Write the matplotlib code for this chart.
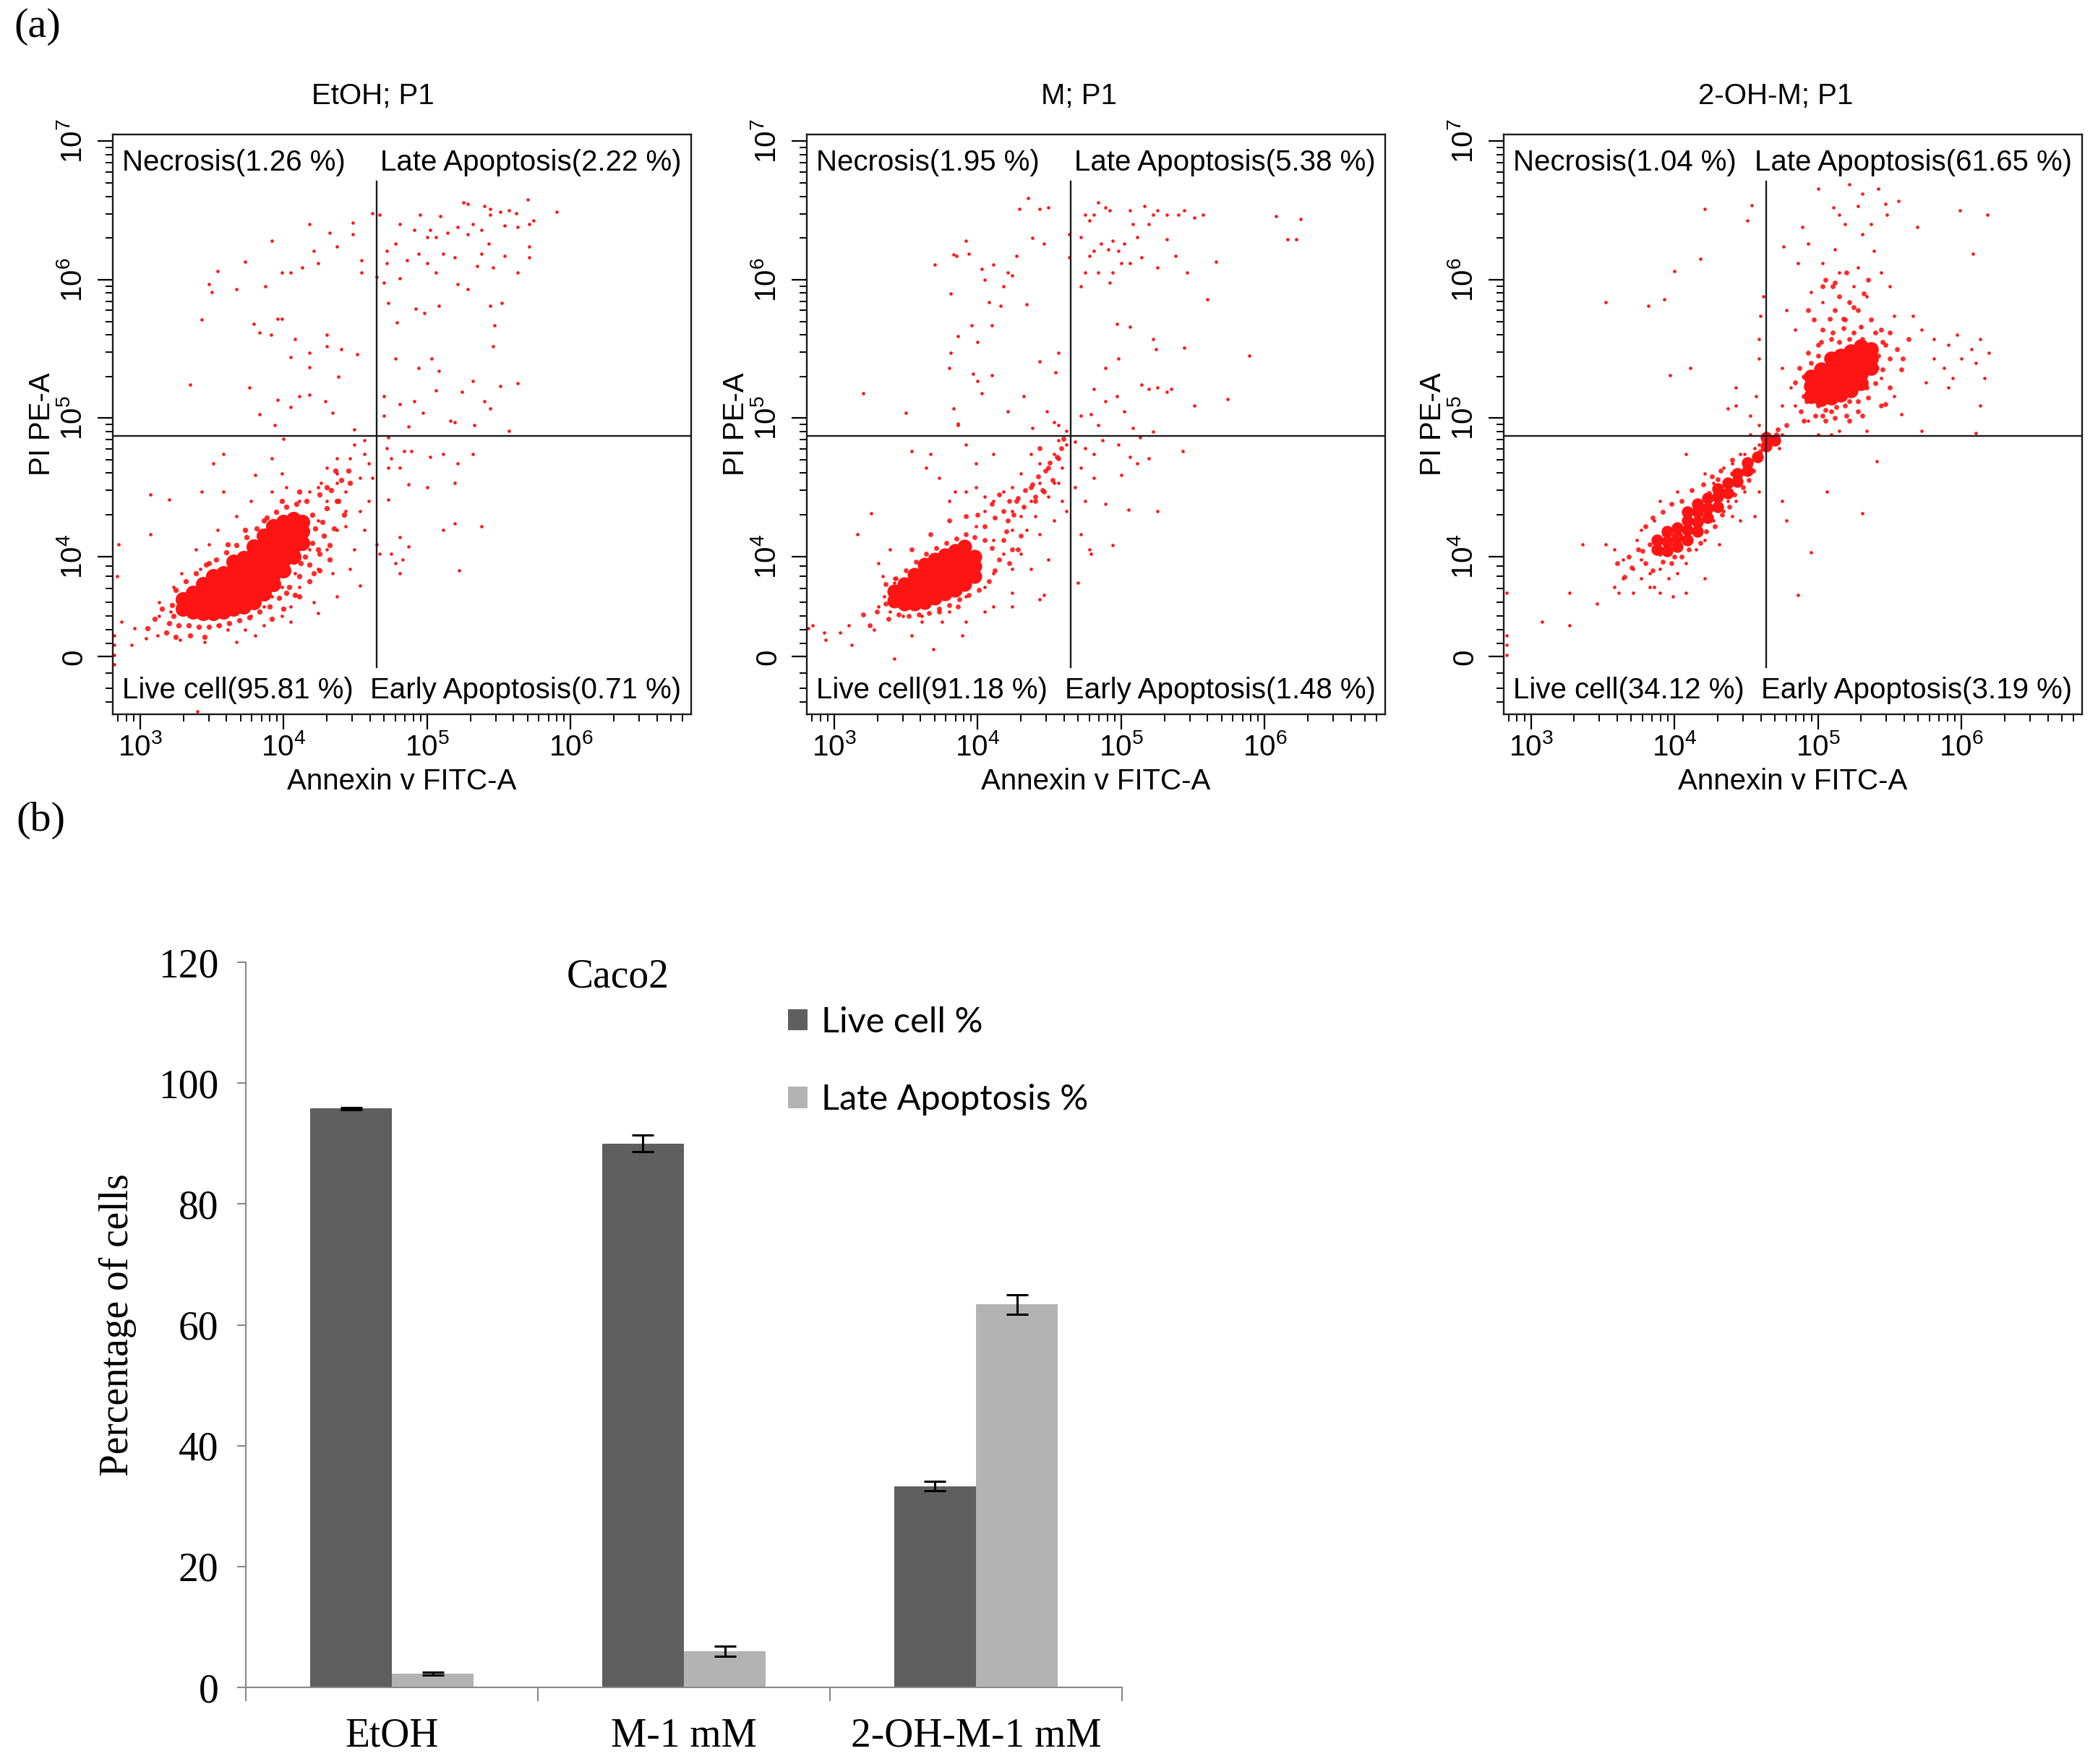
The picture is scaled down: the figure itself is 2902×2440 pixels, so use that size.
import matplotlib
matplotlib.use('Agg')
import matplotlib.pyplot as plt
import numpy as np
from matplotlib.patches import Patch

# ---------------- Flow cytometry data (x: log10 Annexin V FITC-A, y: PI PE-A display decades) ----
panel_titles = ["EtOH; P1", "M; P1", "2-OH-M; P1"]
necrosis_pct = ["1.26", "1.95", "1.04"]
late_pct = ["2.22", "5.38", "61.65"]
live_pct = ["95.81", "91.18", "34.12"]
early_pct = ["0.71", "1.48", "3.19"]
gate_x = [4.65, 4.65, 4.64]
gate_y = [4.87, 4.87, 4.87]

etoh_sparse = [
    (4.18,6.40),(4.32,6.34),(4.48,6.41),(4.48,6.33),(3.92,6.28),(3.73,6.13),(3.54,6.06),(3.48,5.97),(3.50,5.91),
    (3.67,5.93),(3.87,5.95),(3.99,6.05),(4.05,6.05),(4.13,6.09),(4.21,6.21),(4.24,6.12),(4.37,6.24),(4.54,6.14),
    (4.54,6.05),(3.43,5.71),(3.79,5.68),(3.83,5.62),(3.91,5.60),(3.96,5.72),(3.99,5.72),(4.08,5.57),(4.30,5.60),
    (4.30,5.52),(4.40,5.50),(4.51,5.46),(4.05,5.44),(4.18,5.47),(4.18,5.37),(3.76,5.22),(3.35,5.24),(3.96,5.13),
    (4.11,5.16),(4.18,5.17),(4.05,5.08),(3.83,5.03),(3.94,4.95),(4.29,5.12),(4.34,5.04),(4.38,5.30),(4.49,4.92),
    (4.00,4.85),
    (4.62,6.48),(4.67,6.47),(4.81,6.40),(4.91,6.36),(4.95,6.47),(5.00,6.31),(5.09,6.46),(5.25,6.56),(5.28,6.55),
    (5.40,6.53),(5.44,6.51),(5.51,6.49),(5.57,6.50),(5.62,6.48),(5.70,6.58),(5.90,6.49),(5.71,6.40),(5.74,6.43),
    (5.63,6.38),(5.54,6.39),(5.44,6.47),(5.38,6.36),(5.32,6.40),(5.28,6.33),(5.21,6.38),(5.14,6.34),(5.06,6.31),
    (5.02,6.36),(4.78,6.26),(4.72,6.21),(4.72,6.12),(4.65,6.02),(4.70,5.98),(4.81,6.01),(4.86,6.14),(4.94,6.19),
    (5.00,6.12),(5.06,6.05),(5.11,6.19),(5.19,6.16),(5.21,5.97),(5.28,5.93),(5.35,6.10),(5.38,6.19),(5.43,6.26),
    (5.46,6.09),(5.54,6.17),(5.63,6.05),(5.71,6.16),(5.71,6.24),(5.44,5.81),(5.52,5.83),(5.47,5.67),(5.46,5.52),
    (4.73,5.83),(4.79,5.69),(4.92,5.79),(4.98,5.76),(5.08,5.81),(4.78,5.43),(4.94,5.36),(5.03,5.43),(5.08,5.34),
    (5.32,5.27),(5.51,5.23),(5.63,5.25),(5.24,5.19),(5.40,5.12),(5.44,5.07),(5.06,5.20),(4.97,5.04),(4.91,5.12),
    (4.81,5.10),(4.70,5.16),(4.70,5.02),(5.16,4.98),(5.19,4.97),(5.33,4.95),(5.57,4.91),(4.87,4.94),
    (4.73,4.86),(4.72,4.78),(4.84,4.76),(4.89,4.76),(4.75,4.71),(4.73,4.64),(5.02,4.72),(5.11,4.74),(5.21,4.67),
    (5.32,4.74),(5.19,4.53),(5.00,4.50),(4.81,4.64),(4.87,4.52),(4.73,4.41),(4.81,4.14),(4.87,4.07),(4.83,3.98),
    (4.81,3.88),(4.75,4.02),(4.78,3.95),(5.11,4.19),(5.19,4.24),(5.38,4.22),(5.22,3.90),(4.65,4.09),(4.67,4.02),
    (3.07,4.45),(3.20,4.41),(3.07,4.16),(2.85,4.09),(2.84,3.86),(2.87,3.53),(2.96,3.48),(2.94,3.36),(3.04,3.41),
    (3.12,3.43),(3.13,3.67),(3.21,3.60),(3.28,3.40),(3.45,3.38),(3.67,3.38),(3.73,3.47),(3.86,3.50),(4.05,3.53),
    (4.24,3.59),(4.37,3.71),(4.53,3.79),(4.46,3.91),(4.34,3.88),(4.49,4.05),(4.56,4.19),(4.53,4.33),(4.43,4.47),
    (4.37,4.53),(4.30,4.64),(4.46,4.71),(4.56,4.74),(4.56,4.84),(4.49,4.81),(4.37,4.60),(4.24,4.50),(4.18,4.47),
    (4.11,4.40),(3.99,4.60),(3.92,4.71),(3.80,4.59),(3.58,4.74),(3.51,4.67),(3.43,4.47),(3.58,4.47),(3.39,4.05),
    (3.29,3.88),(3.23,3.78),(3.13,3.57),(3.92,3.71),(4.11,3.78),(4.24,3.91),(4.30,4.05),(4.37,4.19),(4.24,4.26),
    (4.43,4.33),(4.21,3.67),(4.05,3.64),(3.99,3.57),(3.80,3.43),(3.61,3.47),(3.54,3.50),(4.30,4.40),(4.43,4.22),
    (3.92,4.47),(3.77,4.40),(3.67,4.29),(3.54,4.19),(3.48,4.09),(3.42,3.91),(4.18,4.05),(4.08,3.88),(3.99,3.78),
    (3.86,3.64),(3.77,3.57),(4.02,4.50),(4.26,4.53),(4.37,4.71),(4.53,4.57),(4.59,4.40),(4.62,4.57),(4.59,4.67),
    (2.82,3.43),(2.82,3.36),(2.82,3.29),(2.82,3.22),(3.40,2.88),
]
etoh_mid = [
    (3.20,3.52),(3.27,3.50),(3.34,3.50),(3.41,3.49),(3.48,3.49),(3.55,3.50),(3.62,3.52),(3.69,3.54),(3.76,3.56),
    (3.83,3.60),(3.90,3.64),(3.97,3.70),(4.04,3.78),(4.11,3.86),(4.18,3.94),(4.25,4.02),(4.32,4.08),
    (3.25,3.76),(3.32,3.82),(3.39,3.88),(3.46,3.94),(3.53,3.98),(3.60,4.03),(3.67,4.08),(3.74,4.14),(3.81,4.20),
    (3.88,4.28),(3.95,4.32),(4.02,4.36),(4.09,4.38),(4.16,4.40),
    (4.15,4.00),(4.20,4.10),(4.22,4.20),(4.20,4.30),(4.27,4.25),(4.30,4.35),(4.25,4.45),(4.33,4.48),(4.38,4.40),
    (4.40,4.55),(4.36,4.62),(4.45,4.62),(4.42,4.30),(4.28,4.15),(4.35,4.20),(4.12,3.95),(4.18,3.82),(4.08,3.72),
    (4.00,3.62),(3.92,3.55),(4.25,3.90),(4.32,3.98),
    (3.10,3.55),(3.15,3.62),(3.22,3.65),(3.18,3.45),(3.05,3.48),(3.25,3.42),(3.35,3.43),(3.45,3.42),
    (3.23,3.57),(3.29,3.64),(3.35,3.74),(3.45,3.81),(3.54,3.88),(4.30,4.50),(4.46,4.53),(4.37,4.40),(4.11,4.47),
    (3.99,4.40),(3.86,4.26),(3.73,4.19),(3.61,4.09),(3.48,3.95),(4.24,4.05),(4.21,3.88),(4.11,3.71),(4.02,3.74),
]
etoh_core = [
    (3.30,3.62),(3.30,3.69),
    (3.37,3.60),(3.37,3.67),(3.37,3.74),
    (3.44,3.59),(3.44,3.66),(3.44,3.73),(3.44,3.80),
    (3.51,3.59),(3.51,3.66),(3.51,3.73),(3.51,3.80),(3.51,3.86),
    (3.58,3.60),(3.58,3.67),(3.58,3.74),(3.58,3.81),(3.58,3.88),
    (3.65,3.62),(3.65,3.69),(3.65,3.76),(3.65,3.83),(3.65,3.90),(3.65,3.96),
    (3.72,3.64),(3.72,3.71),(3.72,3.78),(3.72,3.85),(3.72,3.92),(3.72,3.99),
    (3.79,3.67),(3.79,3.74),(3.79,3.81),(3.79,3.88),(3.79,3.95),(3.79,4.02),(3.79,4.07),
    (3.86,3.73),(3.86,3.80),(3.86,3.87),(3.86,3.94),(3.86,4.01),(3.86,4.08),(3.86,4.15),
    (3.93,3.80),(3.93,3.87),(3.93,3.94),(3.93,4.01),(3.93,4.08),(3.93,4.15),(3.93,4.22),
    (4.00,3.90),(4.00,3.97),(4.00,4.04),(4.00,4.11),(4.00,4.18),(4.00,4.25),
    (4.07,4.00),(4.07,4.07),(4.07,4.14),(4.07,4.21),(4.07,4.27),
    (4.13,4.10),(4.13,4.18),(4.13,4.25),
]

m_sparse = [
    (4.35,6.59),(4.29,6.51),(4.43,6.51),(4.49,6.52),(4.38,6.30),(4.46,6.26),(3.92,6.28),(3.85,6.17),(3.83,6.18),
    (3.70,6.11),(3.94,6.19),(4.11,6.11),(4.21,6.05),(4.27,6.17),(4.03,6.08),(4.05,6.00),(4.18,5.95),(4.24,6.03),
    (4.08,5.84),(4.16,5.81),(4.34,5.82),(3.81,5.90),(3.96,5.67),(4.10,5.67),(3.86,5.59),(4.00,5.55),(3.81,5.47),
    (3.80,5.36),(3.97,5.32),(4.10,5.31),(4.00,5.27),(4.43,5.41),(4.56,5.47),(4.54,5.33),(3.20,5.18),(3.50,5.04),
    (3.83,5.07),(4.03,5.18),(4.21,5.05),(4.32,5.16),(4.38,4.93),(4.48,5.05),(4.53,4.97),(4.56,4.95),(3.86,4.96),
    (4.64,6.33),(4.72,6.31),(4.75,6.47),(4.78,6.43),(4.81,6.47),(4.84,6.56),(4.89,6.52),(4.92,6.50),(4.78,6.17),
    (4.81,6.21),(4.86,6.26),(4.91,6.22),(4.94,6.28),(4.98,6.21),(5.02,6.26),(5.06,6.50),(5.08,6.40),(5.11,6.31),
    (5.16,6.53),(5.19,6.40),(5.22,6.47),(5.25,6.50),(5.32,6.47),(5.40,6.47),(5.44,6.50),(5.51,6.45),(5.57,6.47),
    (5.32,6.29),(5.38,6.17),(5.25,6.09),(5.14,6.16),(5.06,6.12),(5.00,6.12),(4.94,6.05),(4.92,5.98),(4.84,6.05),
    (4.75,6.05),(4.72,5.95),(4.64,6.16),(5.46,6.05),(5.60,5.86),(5.66,6.13),(6.08,6.46),(6.25,6.44),(6.16,6.29),
    (6.22,6.29),(4.97,5.68),(4.98,5.43),(5.06,5.66),(5.22,5.57),(5.24,5.50),(5.44,5.51),(5.14,5.24),(5.19,5.21),
    (5.25,5.22),(5.32,5.19),(5.35,5.21),(5.51,5.09),(5.74,5.14),(5.89,5.45),(4.81,5.21),(4.89,5.36),(4.89,5.12),
    (4.97,5.16),(5.02,5.05),(4.79,5.03),(4.84,4.95),(5.08,4.93),(5.13,4.86),(5.22,4.90),(4.72,5.02),
    (4.68,4.83),(4.75,4.78),(4.81,4.74),(4.87,4.84),(4.98,4.81),(5.00,4.59),(5.06,4.72),(5.11,4.67),(5.19,4.71),
    (5.43,4.76),(4.72,4.64),(4.81,4.57),(4.89,4.38),(5.05,4.34),(5.25,4.33),(4.72,4.16),(4.78,4.05),(4.79,4.02),
    (4.94,4.08),(4.70,3.81),(4.68,4.50),(4.75,4.40),
    (2.82,3.48),(2.85,3.50),(2.93,3.45),(2.94,3.40),(3.04,3.45),(3.10,3.50),(3.12,3.36),(3.28,3.47),(3.31,3.64),
    (3.39,3.60),(3.42,3.26),(3.54,3.43),(3.69,3.33),(3.75,3.53),(3.89,3.43),(3.92,3.53),(4.05,3.60),(4.11,3.64),
    (4.24,3.64),(4.24,3.74),(4.43,3.69),(4.46,3.72),(4.37,3.91),(4.49,3.98),(4.43,4.16),(4.53,4.26),(4.37,4.40),
    (4.49,4.43),(4.56,4.53),(4.59,4.64),(4.53,4.74),(4.43,4.67),(4.37,4.74),(4.30,4.60),(4.24,4.50),(4.18,4.47),
    (4.11,4.40),(4.05,4.43),(3.99,4.50),(3.92,4.47),(3.84,4.47),(3.80,4.40),(3.73,4.57),(3.64,4.64),(3.54,4.76),
    (3.67,4.74),(3.39,4.05),(3.26,4.31),(3.16,4.16),(3.31,3.95),(3.34,3.86),(3.42,3.81),(4.11,4.12),(4.24,4.19),
    (4.18,4.02),(4.30,4.02),(4.11,3.88),(4.24,3.91),(3.99,4.22),(4.05,4.33),(4.24,4.33),(4.30,4.29),(3.92,3.71),
    (4.05,3.78),(3.80,3.60),(3.61,3.57),(3.48,3.57),(3.35,3.71),(3.42,3.84),(3.99,4.67),(4.11,4.74),(3.92,4.81),
    (3.86,4.95),(4.62,4.81),(4.62,4.91),(4.56,4.84),(4.53,4.53),(4.43,4.53),(4.59,4.40),(4.62,4.33),(4.40,4.29),
    (4.34,4.19),(3.92,3.84),(3.61,3.53),
]
m_mid = [
    (3.30,3.60),(3.36,3.66),(3.38,3.55),(3.45,3.58),(3.52,3.57),(3.59,3.58),(3.66,3.59),(3.73,3.62),(3.80,3.65),
    (3.87,3.69),(3.94,3.72),(4.01,3.76),(4.08,3.82),(4.12,3.90),(4.15,3.98),(4.10,4.06),(4.05,4.12),(3.98,4.14),
    (3.92,4.16),(3.85,4.13),(3.78,4.10),(3.71,4.06),(3.64,4.02),(3.57,3.96),(3.50,3.90),(3.43,3.84),(3.36,3.80),
    (4.05,4.22),(4.12,4.28),(4.18,4.33),(4.22,4.40),(4.28,4.42),(4.33,4.48),(4.38,4.52),(4.42,4.58),(4.47,4.62),
    (4.50,4.68),(4.55,4.72),(4.58,4.78),(4.60,4.85),(4.20,4.18),(4.25,4.30),(4.32,4.36),(4.15,4.45),(4.10,4.38),
    (4.00,4.30),(4.40,4.40),(4.45,4.48),(4.52,4.55),(4.22,3.95),(4.28,4.05),(4.30,4.15),(3.25,3.50),(3.20,3.58),
    (3.54,4.05),(3.67,4.16),(3.80,4.26),(3.92,4.29),(4.21,4.26),(4.27,4.40),(4.40,4.43),(4.46,4.47),(4.56,4.71),
    (4.43,4.78),(3.73,3.60),(3.86,3.64),(4.18,4.12),(4.24,4.05),(4.37,4.50),(4.49,4.64),
]
m_core = [
    (3.42,3.68),(3.42,3.75),
    (3.49,3.66),(3.49,3.73),(3.49,3.80),
    (3.56,3.66),(3.56,3.73),(3.56,3.80),(3.56,3.87),
    (3.63,3.67),(3.63,3.74),(3.63,3.81),(3.63,3.88),(3.63,3.94),
    (3.70,3.70),(3.70,3.77),(3.70,3.84),(3.70,3.91),(3.70,3.98),
    (3.77,3.73),(3.77,3.80),(3.77,3.87),(3.77,3.94),(3.77,4.01),
    (3.84,3.76),(3.84,3.83),(3.84,3.90),(3.84,3.97),(3.84,4.04),
    (3.91,3.80),(3.91,3.87),(3.91,3.94),(3.91,4.01),(3.91,4.07),
    (3.98,3.86),(3.98,3.93),(3.98,4.00),
]

oh_sparse = [
    (4.21,6.51),(4.51,6.43),(4.54,6.54),(4.18,6.15),(4.00,6.06),(3.52,5.84),(3.82,5.81),(3.93,5.86),(3.97,5.31),
    (4.11,5.36),(4.43,5.22),(4.37,5.07),(4.43,5.09),(4.53,5.02),(4.59,4.95),(4.57,5.16),(4.59,5.43),(4.59,5.57),
    (4.60,5.74),(4.62,5.88),
    (5.00,6.66),(5.22,6.69),(5.31,6.62),(5.42,6.66),(5.47,6.55),(5.56,6.57),(5.11,6.52),(5.15,6.47),(5.28,6.53),
    (5.19,6.40),(5.37,6.40),(5.48,6.47),(5.69,6.38),(5.99,6.50),(6.18,6.47),(6.08,6.19),(4.89,6.38),(4.93,6.26),
    (4.76,6.24),(4.86,6.12),(5.03,6.12),(5.12,6.22),(5.31,6.33),(5.39,6.21),(5.15,6.05),(5.28,6.09),(5.44,6.05),
    (5.50,5.95),(4.95,5.91),(5.03,5.84),(5.25,5.95),(5.34,5.88),(5.53,5.74),(5.66,5.74),(5.72,5.64),(5.81,5.57),
    (5.91,5.53),(5.97,5.60),(6.07,5.50),(6.13,5.57),(6.19,5.47),(6.16,5.29),(6.10,5.40),(6.00,5.43),(5.94,5.29),
    (5.88,5.36),(5.81,5.43),(5.75,5.26),(5.91,5.22),(6.13,5.09),(5.58,5.03),(5.72,4.91),(6.10,4.89),(4.78,5.78),
    (4.84,5.64),(4.75,5.36),(4.81,5.22),(4.75,5.09),(4.84,5.09),(4.93,4.98),(5.00,4.88),(5.09,4.88),(5.41,4.69),
    (5.06,4.47),(5.31,4.31),(4.86,3.72),(4.95,4.03),(4.78,4.26),(4.75,4.40),(5.15,4.91),(5.34,4.91),(5.53,5.16),
    (5.44,5.29),
    (3.58,3.78),(3.61,3.74),(3.64,3.84),(3.71,3.91),(3.77,3.98),(3.77,3.84),(3.83,3.88),(3.86,3.78),(3.90,3.91),
    (3.74,4.12),(3.77,4.19),(3.86,4.26),(3.90,4.40),(4.02,4.47),(4.08,4.74),(4.21,4.60),(4.27,4.53),(4.34,4.64),
    (4.40,4.67),(4.49,4.74),(4.53,4.67),(4.56,4.78),(4.59,4.81),(4.62,4.84),(4.67,4.81),(4.70,4.84),(4.73,4.78),
    (4.75,4.88),(4.46,4.53),(4.49,4.47),(4.43,4.40),(4.37,4.40),(4.34,4.33),(4.27,4.26),(4.21,4.12),(4.15,4.05),
    (4.08,3.95),(4.02,3.88),(3.96,3.84),(3.90,3.74),(3.83,3.78),(4.21,3.84),(4.40,4.29),(4.46,4.26),(4.31,4.09),
    (4.46,4.74),(4.53,4.88),(4.59,4.47),(4.56,4.29),(3.58,4.05),(3.64,3.98),(3.52,4.09),(3.36,4.09),(3.27,3.74),
    (3.08,3.53),(3.27,3.50),(3.46,3.66),(2.83,3.74),(2.83,3.43),(2.83,3.36),(2.83,3.29),(3.99,3.71),(4.08,3.74),
    (3.71,3.74),
]
oh_mid = [
    (4.97,5.71),(5.03,5.64),(5.12,5.78),(5.19,5.71),(5.28,5.78),(5.37,5.71),(5.44,5.64),(5.47,5.53),(5.50,5.43),
    (5.41,5.36),(5.34,5.22),(5.28,5.12),(5.19,5.09),(5.09,5.05),(5.00,5.09),(4.90,5.16),(4.84,5.26),(4.87,5.36),
    (4.93,5.47),(5.00,5.53),(5.09,5.57),(5.22,5.57),(5.31,5.57),(5.37,5.50),(5.15,5.88),(5.22,5.84),(5.03,5.95),
    (5.12,5.98),(4.97,5.29),(5.03,5.02),(4.90,4.98),(4.78,4.95),(4.71,4.88),(5.22,4.98),(5.31,5.02),(5.44,5.09),
    (5.50,5.22),(5.59,5.43),(5.63,5.57),(4.93,5.78),(5.09,5.43),(5.34,5.43),(5.25,5.36),
    (4.88,5.05),(4.92,5.12),(4.90,5.30),(4.95,5.40),(5.00,5.45),(5.02,5.55),(5.10,5.62),(5.15,5.55),(5.18,5.65),
    (5.25,5.62),(5.30,5.66),(5.40,5.62),(5.45,5.55),(5.42,5.45),(5.45,5.35),(5.40,5.25),(5.35,5.15),(5.28,5.05),
    (5.20,5.02),(5.12,5.00),(5.05,4.98),(4.98,5.02),(5.13,5.08),(5.22,5.12),(5.05,5.06),(5.18,5.72),(5.08,5.72),
    (5.25,5.80),(5.32,5.90),(5.10,5.95),(5.20,6.05),(5.05,6.00),(5.35,6.00),(5.55,5.50),(5.50,5.62),(5.58,5.35),
    (5.47,5.10),
    (3.70,3.92),(3.75,4.05),(3.80,3.95),(3.85,3.90),(3.92,3.96),(3.98,3.95),(4.05,4.00),(4.10,4.05),(4.18,4.10),
    (4.22,4.18),(4.28,4.22),(4.33,4.30),(4.38,4.36),(4.42,4.45),(4.48,4.50),(4.52,4.55),(4.55,4.62),(3.80,4.22),
    (3.85,4.28),(3.92,4.32),(3.98,4.38),(4.05,4.40),(4.12,4.48),(4.20,4.52),(4.26,4.58),(4.32,4.62),(4.40,4.70),
    (3.65,3.85),(3.60,3.95),(3.68,4.00),(3.83,4.09),(3.90,4.02),(3.93,4.16),(4.10,4.30),(4.14,4.36),(4.24,4.46),
    (4.30,4.56),(4.40,4.60),(4.50,4.64),(4.60,4.76),(4.66,4.86),(4.72,4.92),(3.78,4.04),(4.00,4.00),
]
oh_core = [
    (4.95,5.16),(4.95,5.23),(4.95,5.30),
    (5.02,5.14),(5.02,5.21),(5.02,5.28),(5.02,5.35),
    (5.09,5.15),(5.09,5.22),(5.09,5.29),(5.09,5.36),(5.09,5.43),
    (5.16,5.17),(5.16,5.24),(5.16,5.31),(5.16,5.38),(5.16,5.45),
    (5.23,5.20),(5.23,5.27),(5.23,5.34),(5.23,5.41),(5.23,5.48),
    (5.30,5.25),(5.30,5.32),(5.30,5.39),(5.30,5.46),(5.30,5.52),
    (5.37,5.36),(5.37,5.43),(5.37,5.50),
]
oh_core_low = [
    (3.88,4.05),(3.88,4.12),
    (3.95,4.04),(3.95,4.11),(3.95,4.18),
    (4.02,4.07),(4.02,4.14),(4.02,4.21),
    (4.09,4.12),(4.09,4.19),(4.09,4.26),(4.09,4.32),
    (4.16,4.18),(4.16,4.25),(4.16,4.32),(4.16,4.38),
    (4.23,4.28),(4.23,4.35),(4.23,4.42),
    (4.30,4.36),(4.30,4.43),(4.30,4.49),
    (4.37,4.46),(4.37,4.53),
    (4.44,4.54),(4.44,4.60),
    (4.51,4.62),(4.51,4.68),
    (4.58,4.72),(4.64,4.80),(4.64,4.86),(4.70,4.84),
]

# ---------------- Bar chart data ----------------
groups = ["EtOH", "M-1 mM", "2-OH-M-1 mM"]
live_mean = [95.8, 90.0, 33.3]
live_err = [0.15, 1.4, 0.8]
late_mean = [2.3, 6.0, 63.4]
late_err = [0.2, 0.8, 1.6]
series_labels = ["Live cell %", "Late Apoptosis %"]

RED = '#ff1414'
SANS = 'Liberation Sans'
SERIF = 'Liberation Serif'

fig = plt.figure(figsize=(29.02, 24.40), dpi=100)

flow_left = [0.0538, 0.3846, 0.7167]
title_x = [0.45, 0.47, 0.47]
panels = [
    [(etoh_sparse, 11, 1.0), (etoh_mid, 28, 0.9), (etoh_core, 230, 1.0)],
    [(m_sparse, 11, 1.0), (m_mid, 24, 0.9), (m_core, 210, 1.0)],
    [(oh_sparse, 11, 1.0), (oh_mid, 24, 0.9), (oh_core, 220, 1.0), (oh_core_low, 140, 1.0)],
]

x_major = [3, 4, 5, 6]
y_major = [3.276, 4, 5, 6, 7]
y_labels = ['0', r'$\mathregular{10^4}$', r'$\mathregular{10^5}$', r'$\mathregular{10^6}$', r'$\mathregular{10^7}$']
x_labels = [r'$\mathregular{10^3}$', r'$\mathregular{10^4}$', r'$\mathregular{10^5}$', r'$\mathregular{10^6}$']
x_minor = [d + np.log10(k) for d in range(2, 7) for k in range(2, 10) if 2.81 < d + np.log10(k) < 6.84]
y_minor = [d + np.log10(k) for d in range(4, 7) for k in range(2, 10)] + \
          [3.37, 3.47, 3.57, 3.67, 3.77, 3.86, 3.93, 3.16, 3.05, 2.95]

for i in range(3):
    ax = fig.add_axes([flow_left[i], 0.5951, 0.2757, 0.3287])
    ax.set_xlim(2.81, 6.84)
    ax.set_ylim(2.86, 7.05)
    for pts, s, a in panels[i]:
        arr = np.array(pts)
        ax.scatter(arr[:, 0], arr[:, 1], s=s, c=RED, linewidths=0, alpha=a, zorder=2)
    ax.axhline(gate_y[i], color='#1a1a1a', lw=1.7, zorder=3)
    ax.plot([gate_x[i], gate_x[i]], [3.2, 6.71], color='#1a1a1a', lw=1.7, zorder=3)
    ax.set_xticks(x_major)
    ax.set_xticklabels(x_labels, fontsize=29, family=SANS)
    ax.set_xticks(x_minor, minor=True)
    ax.set_yticks(y_major)
    ax.set_yticklabels(y_labels, fontsize=29, family=SANS, rotation=90, va='center')
    ax.set_yticks(y_minor, minor=True)
    ax.tick_params(which='major', direction='out', length=15, width=1.6, pad=4)
    ax.tick_params(which='minor', direction='out', length=7, width=1.4)
    ax.tick_params(axis='y', which='major', pad=10)
    for sp in ax.spines.values():
        sp.set_linewidth(1.7)
        sp.set_color('#1a1a1a')
    ax.set_xlabel('Annexin v FITC-A', fontsize=29, family=SANS, labelpad=6)
    ax.set_ylabel('PI PE-A', fontsize=29, family=SANS, labelpad=4)
    ax.text(title_x[i], 1.066, panel_titles[i], transform=ax.transAxes, ha='center', va='center',
            fontsize=29, family=SANS)
    ax.text(0.016, 0.951, 'Necrosis(%s %%)' % necrosis_pct[i], transform=ax.transAxes,
            ha='left', va='center', fontsize=29, family=SANS)
    ax.text(0.983, 0.951, 'Late Apoptosis(%s %%)' % late_pct[i], transform=ax.transAxes,
            ha='right', va='center', fontsize=29, family=SANS)
    ax.text(0.016, 0.041, 'Live cell(%s %%)' % live_pct[i], transform=ax.transAxes,
            ha='left', va='center', fontsize=29, family=SANS)
    ax.text(0.983, 0.041, 'Early Apoptosis(%s %%)' % early_pct[i], transform=ax.transAxes,
            ha='right', va='center', fontsize=29, family=SANS)

# ---------------- Bar chart ----------------
bx = fig.add_axes([0.1172, 0.0434, 0.4176, 0.4111])
xpos = np.arange(len(groups))
w = 0.28
ekw = dict(elinewidth=2.2, capthick=2.2, ecolor='black')
bx.bar(xpos - w / 2, live_mean, w, yerr=live_err, color='#5f5f5f', capsize=11, error_kw=ekw, zorder=2)
bx.bar(xpos + w / 2, late_mean, w, yerr=late_err, color='#b3b3b3', capsize=11, error_kw=ekw, zorder=2)
bx.set_xlim(-0.5, 2.5)
bx.set_ylim(0, 120)
bx.set_yticks(range(0, 121, 20))
bx.set_yticklabels([str(v) for v in range(0, 121, 20)], fontsize=40, family=SERIF)
bx.set_xticks([-0.5, 0.5, 1.5, 2.5])
bx.set_xticklabels([])
bx.set_xticks(xpos, minor=True)
bx.set_xticklabels(groups, minor=True, fontsize=40, family=SERIF)
bx.tick_params(axis='y', direction='out', length=9, width=1.5, color='#888888', pad=18)
bx.tick_params(axis='x', which='major', direction='out', length=14, width=1.5, color='#888888')
bx.tick_params(axis='x', which='minor', length=0, pad=30)
for s in ['top', 'right']:
    bx.spines[s].set_visible(False)
for s in ['left', 'bottom']:
    bx.spines[s].set_color('#888888')
    bx.spines[s].set_linewidth(1.5)
bx.set_ylabel('Percentage of cells', fontsize=40, family=SERIF, labelpad=22)
bx.text(0.425, 0.98, 'Caco2', transform=bx.transAxes, ha='center', va='center', fontsize=40, family=SERIF)

handles = [Patch(facecolor='#5f5f5f'), Patch(facecolor='#b3b3b3')]
fig.legend(handles, series_labels, loc='upper left', bbox_to_anchor=(1090 / 2902, 1 - 1392 / 2440),
           bbox_transform=fig.transFigure, frameon=False, prop={'family': 'Lato', 'size': 35},
           handlelength=0.55, handleheight=0.55, handletextpad=0.4, labelspacing=1.3,
           borderpad=0, borderaxespad=0)

fig.text(52 / 2902, 1 - 37 / 2440, '(a)', fontsize=42, family=SERIF, ha='center', va='center')
fig.text(56 / 2902, 1 - 1135 / 2440, '(b)', fontsize=42, family=SERIF, ha='center', va='center')

fig.savefig('out.png', dpi=100)
